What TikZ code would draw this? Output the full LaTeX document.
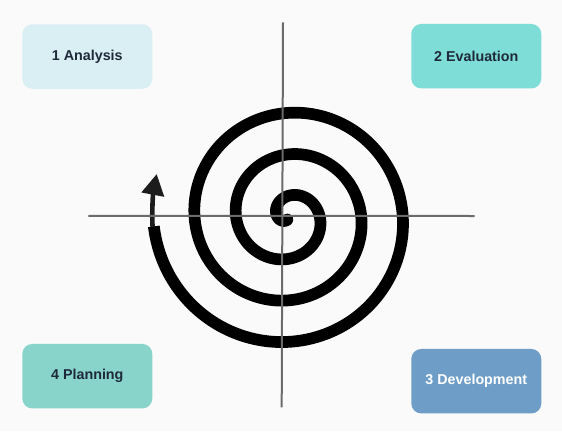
\documentclass[tikz,border=0pt]{standalone}
\usepackage{fontspec}
\setmainfont{Liberation Sans}
\usetikzlibrary{arrows.meta}
\definecolor{bg}{HTML}{FAFAFA}
\definecolor{txt}{HTML}{1E2A3A}
\definecolor{analc}{HTML}{D9EFF3}
\definecolor{evalc}{HTML}{7EDDD6}
\definecolor{planc}{HTML}{88D3CA}
\definecolor{devc}{HTML}{6E9EC8}
\definecolor{axisgray}{HTML}{6B6B6B}
\definecolor{arrowc}{HTML}{1C1C1C}
\begin{document}
\begin{tikzpicture}[x=1pt,y=-1pt,
  phase/.style={rounded corners=10pt, minimum width=130pt, minimum height=64.5pt,
    inner sep=0pt, font=\fontsize{14.3}{16}\selectfont\bfseries, text=txt},
  axisline/.style={draw=axisgray, line width=2pt},
  spiralline/.style={draw=black, line width=11.7pt, line cap=butt, line join=round},
  arrowline/.style={draw=arrowc, line width=4.6pt, -{Triangle[length=21pt,width=22pt]}}
]
\useasboundingbox[fill=bg] (0,0) rectangle (562,431);
% phase boxes
\node[phase, fill=analc] (analysis) at (87.3,56.5) {1 Analysis};
\node[phase, fill=evalc] (evaluation) at (476.3,56.2) {2 Evaluation};
\node[phase, fill=planc] (planning) at (87.3,376.2) {4 Planning};
\node[phase, fill=devc, text=white] (development) at (476.3,381.2) {3 Development};
% spiral
\draw[spiralline] plot[domain=-250:896, samples=700, variable=\t]
  ({288.3+(31.5+0.115278*\t)*cos(\t)}, {217+(31.5+0.115278*\t)*sin(\t)});
\fill[black] (287.38,219.52) circle[radius=5.85pt];
% arrow
\coordinate (tailstart) at (152.6,227);
\coordinate (tip) at (156.7,174);
\draw[arrowline] (tailstart) .. controls (151.6,210) and (153.3,192) .. (tip);
% axes
\coordinate (vtop) at (283,22.3);
\coordinate (vbot) at (281.7,407.3);
\coordinate (hleft) at (88.3,215.8);
\coordinate (hright) at (474.7,216);
\draw[axisline] (vtop) -- (vbot);
\draw[axisline] (hleft) -- (hright);
\end{tikzpicture}
\end{document}
